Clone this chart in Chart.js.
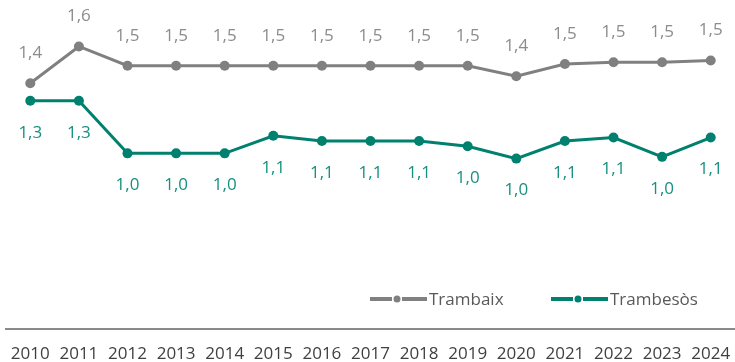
<!DOCTYPE html>
<html>
<head>
<meta charset="utf-8">
<script src="https://cdn.jsdelivr.net/npm/chart.js@4/dist/chart.umd.min.js"></script>
<style>
  html, body { margin: 0; padding: 0; background: #fff; overflow: hidden; }
  #wrap { width: 735px; height: 362px; }
</style>
</head>
<body>
<div id="wrap"><canvas id="chart" width="735" height="362"></canvas></div>
<script>
// --- Data ---
const years = ['2010', '2011', '2012', '2013', '2014', '2015', '2016', '2017', '2018', '2019', '2020', '2021', '2022', '2023', '2024'];
const trambaix = [1.40, 1.61, 1.50, 1.50, 1.50, 1.50, 1.50, 1.50, 1.50, 1.50, 1.44, 1.51, 1.52, 1.52, 1.53];
const trambesos = [1.30, 1.30, 1.00, 1.00, 1.00, 1.10, 1.07, 1.07, 1.07, 1.04, 0.97, 1.07, 1.09, 0.98, 1.09];

const GRAY = '#808080';
const TEAL = '#00806f';
const FONT = '"Open Sans", sans-serif';

const fmt = v => v.toFixed(1).replace('.', ',');

// value labels above (gray) / below (teal) each point
const valueLabels = {
    id: 'valueLabels',
    afterDatasetsDraw(chart) {
        const ctx = chart.ctx;
        ctx.save();
        ctx.font = '17px ' + FONT;
        ctx.textAlign = 'center';
        ctx.textBaseline = 'middle';
        chart.data.datasets.forEach((ds, i) => {
            const meta = chart.getDatasetMeta(i);
            ctx.fillStyle = ds.labelColor;
            meta.data.forEach((pt, j) => {
                ctx.fillText(fmt(ds.data[j]), pt.x, pt.y + ds.labelOffset);
            });
        });
        ctx.restore();
    }
};

// legend drawn inside the plot, lower right
const innerLegend = {
    id: 'innerLegend',
    afterDraw(chart) {
        const ctx = chart.ctx;
        const y = 299;
        const starts = [370, 551];
        ctx.save();
        ctx.font = '17px ' + FONT;
        ctx.textBaseline = 'middle';
        chart.data.datasets.forEach((ds, i) => {
            const x = starts[i];
            ctx.strokeStyle = ds.borderColor;
            ctx.lineWidth = 4;
            ctx.beginPath();
            ctx.moveTo(x, y); ctx.lineTo(x + 22, y);
            ctx.moveTo(x + 32, y); ctx.lineTo(x + 57, y);
            ctx.stroke();
            ctx.fillStyle = ds.borderColor;
            ctx.beginPath();
            ctx.arc(x + 27, y, 3.5, 0, Math.PI * 2);
            ctx.fill();
            ctx.fillStyle = '#595959';
            ctx.fillText(ds.label, x + 59, y + 1);
        });
        ctx.restore();
    }
};

new Chart(document.getElementById('chart').getContext('2d'), {
    type: 'line',
    data: {
        labels: years,
        datasets: [{
            label: 'Trambaix',
            data: trambaix,
            borderColor: GRAY,
            backgroundColor: GRAY,
            labelColor: '#8c8c8c',
            labelOffset: -30,
            borderWidth: 3,
            pointRadius: 5,
            pointBorderWidth: 0,
            tension: 0
        }, {
            label: 'Trambesòs',
            data: trambesos,
            borderColor: TEAL,
            backgroundColor: TEAL,
            labelColor: '#16907f',
            labelOffset: 32,
            borderWidth: 3,
            pointRadius: 5,
            pointBorderWidth: 0,
            tension: 0
        }]
    },
    options: {
        responsive: false,
        animation: false,
        layout: { autoPadding: false, padding: { left: 6, right: -8, top: 0, bottom: -2 } },
        plugins: {
            legend: { display: false },
            tooltip: { enabled: false }
        },
        scales: {
            x: {
                offset: true,
                grid: { display: true, drawOnChartArea: false, drawTicks: true, tickLength: 15, tickColor: 'rgba(0,0,0,0)' },
                border: { display: true, color: '#8a8a8a', width: 2 },
                ticks: {
                    color: '#404040',
                    font: { family: FONT, size: 17 },
                    padding: 0,
                    autoSkip: false,
                    maxRotation: 0
                }
            },
            y: {
                display: false,
                min: 0,
                max: 1.875
            }
        }
    },
    plugins: [valueLabels, innerLegend]
});
</script>
</body>
</html>
